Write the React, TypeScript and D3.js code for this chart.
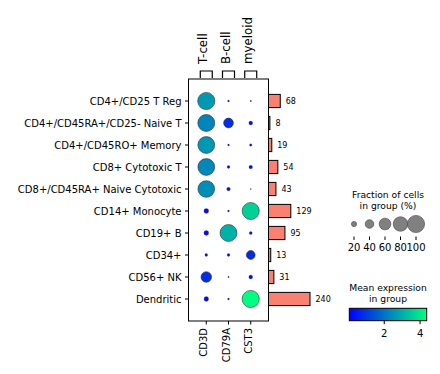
import React from "react";
import * as d3 from "d3";

const categories = [
  "CD4+/CD25 T Reg",
  "CD4+/CD45RA+/CD25- Naive T",
  "CD4+/CD45RO+ Memory",
  "CD8+ Cytotoxic T",
  "CD8+/CD45RA+ Naive Cytotoxic",
  "CD14+ Monocyte",
  "CD19+ B",
  "CD34+",
  "CD56+ NK",
  "Dendritic",
];
const genes = ["CD3D", "CD79A", "CST3"];
const geneGroups = ["T-cell", "B-cell", "myeloid"];
const cellCounts = [68, 8, 19, 54, 43, 129, 95, 13, 31, 240];

// fraction of cells expressing (0-1), one array per gene
const fracCD3D = [1.0, 0.98, 0.97, 0.97, 0.96, 0.19, 0.19, 0.09, 0.52, 0.18];
const fracCD79A = [0.05, 0.47, 0.05, 0.09, 0.13, 0.05, 0.98, 0.09, 0.04, 0.05];
const fracCST3 = [0.04, 0.14, 0.07, 0.13, 0.03, 0.99, 0.1, 0.41, 0.14, 1.0];

// mean expression in group
const exprCD3D = [2.64, 2.3, 2.6, 2.35, 2.45, 0.3, 0.3, 0.25, 0.85, 0.3];
const exprCD79A = [0.25, 0.85, 0.25, 0.2, 0.3, 0.2, 3.05, 0.25, 0.2, 0.2];
const exprCST3 = [0.2, 0.35, 0.2, 0.3, 0.05, 3.6, 0.3, 0.8, 0.35, 4.37];

const sizeLegend = [20, 40, 60, 80, 100];
const colorTicks = [2, 4];

const fracs = [fracCD3D, fracCD79A, fracCST3];
const exprs = [exprCD3D, exprCD79A, exprCST3];

const FONT = "DejaVu Sans, sans-serif";

export default function App() {
  const width = 440;
  const height = 374;

  // dot plot area
  const x = d3.scaleLinear().domain([-0.3, genes.length + 0.3]).range([188.5, 268.5]);
  const y = d3.scaleLinear().domain([-0.5, categories.length + 0.5]).range([79, 321]);

  const allExpr = exprs.flat();
  const color = d3
    .scaleSequential(d3.interpolateRgb("#0000ff", "#00ff80"))
    .domain(d3.extent(allExpr) as [number, number]);
  const radius = d3.scalePow().exponent(0.75).domain([0, 1]).range([0, 8.6]);

  // bar chart of cell counts
  const xb = d3.scaleLinear().domain([0, 240]).range([268.5, 310]);
  const barH = (y(1) - y(0)) * 0.6;

  // colorbar
  const cb = d3.scaleLinear().domain(color.domain()).range([349.3, 426.7]);
  const gradStops = d3.range(0, 1.0001, 0.1);

  const sizeX = d3.scalePoint<number>().domain(sizeLegend).range([354, 416]);

  return (
    <svg
      width={width}
      height={height}
      style={{ position: "absolute", left: 0, top: 0, fontFamily: FONT }}
    >
      <defs>
        <linearGradient id="winter" x1="0" x2="1" y1="0" y2="0">
          {gradStops.map((t) => (
            <stop
              key={t}
              offset={t}
              stopColor={color(color.domain()[0] + t * (color.domain()[1] - color.domain()[0]))}
            />
          ))}
        </linearGradient>
      </defs>
      <rect width={width} height={height} fill="#fff" />

      {/* group brackets */}
      {geneGroups.map((g, i) => {
        const c = i + 0.5;
        const x0 = x(c - 0.27);
        const x1 = x(c + 0.27);
        return (
          <g key={g}>
            <path d={`M${x0},78 V71 H${x1} V78`} fill="none" stroke="#000" strokeWidth={1.2} />
            <text
              transform={`translate(${x(c) + 1},64) rotate(-90)`}
              fontSize={11.8}
              textAnchor="start"
            >
              {g}
            </text>
          </g>
        );
      })}

      {/* dot plot frame */}
      <rect
        x={x.range()[0]}
        y={y.range()[0]}
        width={x.range()[1] - x.range()[0]}
        height={y.range()[1] - y.range()[0]}
        fill="none"
        stroke="#000"
        strokeWidth={1}
      />

      {/* y ticks & labels */}
      {categories.map((c, i) => (
        <g key={c}>
          <line x1={x.range()[0] - 3.5} x2={x.range()[0]} y1={y(i + 0.5)} y2={y(i + 0.5)} stroke="#000" />
          <text x={x.range()[0] - 7} y={y(i + 0.5)} dy="0.35em" textAnchor="end" fontSize={10}>
            {c}
          </text>
        </g>
      ))}

      {/* x ticks & gene labels */}
      {genes.map((g, j) => (
        <g key={g}>
          <line x1={x(j + 0.5)} x2={x(j + 0.5)} y1={y.range()[1]} y2={y.range()[1] + 3.5} stroke="#000" />
          <text
            transform={`translate(${x(j + 0.5) + 1},${y.range()[1] + 7}) rotate(-90)`}
            textAnchor="end"
            fontSize={10}
          >
            {g}
          </text>
        </g>
      ))}

      {/* dots */}
      {genes.map((g, j) =>
        categories.map((c, i) => (
          <circle
            key={g + c}
            cx={x(j + 0.5)}
            cy={y(i + 0.5)}
            r={radius(fracs[j][i])}
            fill={color(exprs[j][i])}
            stroke="#333"
            strokeWidth={fracs[j][i] > 0.3 ? 0.6 : 0.2}
          />
        ))
      )}

      {/* cell count bars */}
      <line x1={xb(0)} x2={xb(0)} y1={y.range()[0]} y2={y.range()[1]} stroke="#000" />
      {cellCounts.map((v, i) => (
        <g key={i}>
          <rect
            x={xb(0)}
            y={y(i + 0.5) - barH / 2}
            width={xb(v) - xb(0)}
            height={barH}
            fill="#fa8072"
            stroke="#000"
            strokeWidth={1}
          />
          <text x={xb(v) + 5.5} y={y(i + 0.5)} dy="0.35em" fontSize={8}>
            {v}
          </text>
        </g>
      ))}

      {/* size legend */}
      <text textAnchor="middle" fontSize={9.2} x={388} y={197.5}>
        Fraction of cells
      </text>
      <text textAnchor="middle" fontSize={9.2} x={388} y={208.5}>
        in group (%)
      </text>
      {sizeLegend.map((s) => (
        <g key={s}>
          <circle
            cx={sizeX(s)}
            cy={224}
            r={radius(s / 100)}
            fill="#808080"
            stroke="#444"
            strokeWidth={0.6}
          />
          <line x1={sizeX(s)} x2={sizeX(s)} y1={236.5} y2={240} stroke="#000" />
          <text x={sizeX(s)} y={251} textAnchor="middle" fontSize={10}>
            {s}
          </text>
        </g>
      ))}

      {/* colorbar legend */}
      <text textAnchor="middle" fontSize={9.2} x={388} y={290.5}>
        Mean expression
      </text>
      <text textAnchor="middle" fontSize={9.2} x={388} y={301.5}>
        in group
      </text>
      <rect
        x={cb.range()[0]}
        y={308.3}
        width={cb.range()[1] - cb.range()[0]}
        height={12.4}
        fill="url(#winter)"
        stroke="#000"
        strokeWidth={1}
      />
      {colorTicks.map((t) => (
        <g key={t}>
          <line x1={cb(t)} x2={cb(t)} y1={320.7} y2={324.2} stroke="#000" />
          <text x={cb(t)} y={337} textAnchor="middle" fontSize={10}>
            {t}
          </text>
        </g>
      ))}
    </svg>
  );
}
